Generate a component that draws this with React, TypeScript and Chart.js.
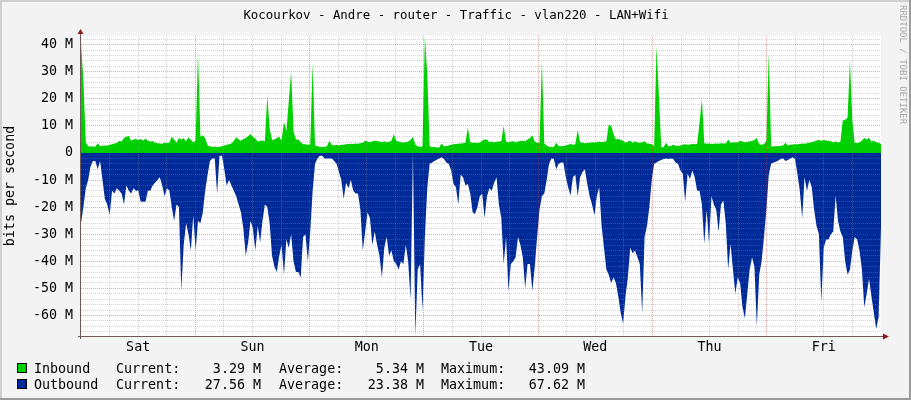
import React, { useEffect, useRef } from 'react';
import { Chart, registerables } from 'chart.js';

Chart.register(...registerables);

// ---- data (Mbit/s, one sample per 30 minutes, Sat 00:00 -> Fri 24:00) ----
const DAY_LABELS = ['Sat', 'Sun', 'Mon', 'Tue', 'Wed', 'Thu', 'Fri'];
const HOURS_SPAN = 168;

const INBOUND = [
  40.5, 27, 4, 2.5, 2.4, 2.4, 2.3, 3.6, 2.5, 2.7, 2.8, 2.8,
  2.9, 3.2, 3.5, 3.7, 4.5, 4.2, 5.5, 6, 6.3, 4.5, 5, 5.2,
  4.8, 5.2, 4.5, 5.3, 4.5, 4.2, 4.4, 3.8, 3.6, 3.5, 3.4, 3.8,
  3.6, 3.9, 6, 5, 3.8, 5.5, 5, 5.4, 4.3, 5.8, 4.8, 4,
  4.5, 37, 6, 6.5, 5.5, 2.8, 2.5, 2.2, 2.4, 2.2, 2.3, 2.5,
  2.8, 3, 3.2, 3.5, 4.5, 5.8, 5, 4.5, 5.2, 5.5, 6.2, 7,
  6, 5.3, 4.2, 4.4, 4.6, 4.3, 21, 9, 4.8, 5, 5.5, 6,
  4.5, 11.5, 8, 19, 30, 8, 5, 5, 4, 3.2, 3.2, 3,
  3, 33, 2.8, 2.5, 2.3, 2.2, 2.3, 2.5, 4.5, 3, 2.8, 3,
  2.8, 3, 3, 3.2, 3.3, 3.4, 3.3, 3.5, 3.4, 3.6, 3.8, 4.5,
  4.2, 4, 4.3, 4.5, 4.4, 4.2, 4, 4.3, 4, 4.1, 4.5, 7,
  4.5, 4.2, 4, 3.9, 4, 4.2, 4.8, 6, 3, 2.5, 2.3, 2.4,
  43, 29, 2.5, 2.2, 2.2, 2, 2, 3.5, 2.5, 2.6, 2.8, 3,
  3.2, 3.3, 3.4, 3.5, 3.6, 3.8, 9.5, 4, 3.8, 3.8, 3.7, 3.9,
  4.5, 5, 5, 4, 4.2, 4, 4.1, 4.2, 4.3, 10, 4.2, 4,
  4.2, 4.3, 4, 4.2, 4.4, 4.5, 4.3, 5, 5.5, 6.5, 4.2, 3.8,
  3.6, 34, 3.5, 2.8, 2.3, 2.2, 2.2, 3.8, 2.6, 2.5, 2.6, 2.8,
  3, 3.3, 3, 3.2, 8.5, 4, 3.8, 3.6, 3.7, 3.8, 4, 3.9,
  4, 4.2, 4, 4.1, 4.3, 10.5, 10, 7, 5, 5.2, 4.8, 4.5,
  3.8, 4.2, 4.5, 3.8, 4.3, 3.9, 3.8, 4, 4.3, 3.5, 3.4, 3.2,
  2.5, 39.5, 21, 2, 2.2, 3.8, 2.5, 2.6, 3, 2.7, 2.6, 2.8,
  3, 3.2, 3, 3.1, 3.3, 3.2, 3.4, 11, 20, 3.6, 3.4, 3.5,
  3.3, 3.4, 3.5, 3.4, 3.6, 3.5, 3.5, 5, 3.8, 4, 3.9, 4,
  4.5, 4.2, 4, 4.1, 4.2, 4.4, 4.8, 5.5, 3.2, 3, 3.2, 4.5,
  37, 2.5, 2.4, 2.6, 2.5, 2.7, 2.8, 3.8, 2.8, 3, 3.1, 3.2,
  3.2, 3.3, 3.5, 3.4, 3.6, 3.8, 4, 4.2, 4.6, 4.8, 4.5, 4.8,
  4.6, 4.4, 4.3, 4, 4.2, 3.9, 4.1, 12, 12.3, 13, 34, 12,
  3.8, 3.6, 4, 4.5, 5.5, 5, 5.6, 4.2, 4.5, 4, 3.8, 3.3,
];

// outbound magnitudes (drawn below zero, as in the RRD graph)
const OUTBOUND = [
  26, 20, 13, 10, 5, 3, 3, 6, 3, 10, 17, 19,
  23, 14, 15, 13, 14, 15, 19, 12, 14, 15, 13, 14,
  14, 18, 18, 18, 14, 14, 12, 11, 10, 9, 12, 16,
  13, 14, 20, 25, 19, 20, 51, 34, 26, 30, 36, 23,
  36, 25, 26, 22, 14, 8, 3, 2, 2, 15, 1, 1,
  6, 12, 10, 12, 14, 16, 19, 22, 28, 38, 33, 25,
  28, 36, 27, 33, 25, 19, 20, 26, 38, 42, 44, 38,
  34, 45, 32, 35, 30, 40, 44, 44, 46, 31, 30, 40,
  29, 14, 4, 2, 1, 1, 2, 2, 2, 2, 3, 4,
  7, 10, 17, 11, 13, 10, 14, 15, 15, 21, 36, 29,
  22, 24, 34, 29, 34, 38, 46, 35, 31, 38, 36, 40,
  41, 43, 40, 41, 34, 40, 54, 0.3, 67.6, 43, 41, 58,
  31, 13, 4, 3.5, 3, 2.5, 2, 1.6, 2.2, 3.5, 4, 6.5,
  11.5, 12.7, 19, 8, 9, 12, 11.5, 15, 22, 22.5, 20, 16,
  15, 24, 16, 13, 14, 11, 9, 19, 24, 41, 31, 51,
  41, 40, 38.5, 31, 34, 38.5, 50, 41, 41, 51, 42, 31,
  21, 16, 15, 10, 4, 2, 2.2, 6, 4, 3.5, 3.5, 9,
  12.7, 15.7, 9, 8, 16, 9, 7, 6, 11.5, 16, 19, 23,
  16, 12.7, 27, 35, 43, 45, 48, 46, 48, 53, 59, 63,
  53, 46, 35, 37, 36, 38.5, 41, 59, 31, 27, 20, 10,
  4, 3.5, 3, 2.6, 2.2, 2, 2.2, 2, 2.2, 3.5, 4, 6.5,
  7.7, 18, 7.7, 9.6, 6.5, 9, 14, 14, 19, 33.5, 21, 33.5,
  16, 19, 21, 29, 19, 17.6, 26, 43, 33.5, 43, 52, 46,
  48, 57, 61, 52, 43, 38.5, 42, 64, 45, 40, 31, 21,
  8, 4, 3.5, 3.2, 2.8, 2.2, 2, 3, 2.6, 2, 1.6, 2.2,
  7.7, 14, 24, 9, 14, 10, 12.7, 21, 27, 30, 55, 35,
  32, 32, 30, 29, 15.7, 25, 29, 31, 40, 45, 43, 36,
  31, 32, 36, 43, 57, 52, 46.5, 53, 59, 65, 60.6, 27.6,
];

const TITLE = 'Kocourkov - Andre - router - Traffic - vlan220 - LAN+Wifi';
const Y_TITLE = 'bits per second';
const WATERMARK = 'RRDTOOL / TOBI OETIKER';
const SERIES_NAMES = ['Inbound', 'Outbound'];
const SERIES_COLORS = ['#00CF00', '#002A97'];
const LEGEND_CURRENT = ['3.29 M', '27.56 M'];
const LEGEND_AVERAGE = ['5.34 M', '23.38 M'];
const LEGEND_MAXIMUM = ['43.09 M', '67.62 M'];
const Y_MIN = -67.6;
const Y_MAX = 43.2;

// ---- styling ----
const MONO = '"DejaVu Sans Mono", monospace';
const FONT_PX = 13.33;
const TITLE_PX = 12.4;
const MAJOR_GRID = 'rgba(205, 40, 40, 0.42)';
const MINOR_GRID = 'rgba(140, 140, 140, 0.38)';
const AXIS_COLOR = '#6E5858';
const ARROW_COLOR = '#8B1A1A';

const isMultiple = (v: number, m: number) => Math.abs(v / m - Math.round(v / m)) < 1e-6;

const rrdFrame = {
  id: 'rrdFrame',
  beforeDraw(chart: any) {
    const { ctx, width, height, chartArea: a } = chart;
    ctx.save();
    ctx.fillStyle = '#F3F3F3';
    ctx.fillRect(0, 0, width, height);
    ctx.fillStyle = '#CFCFCF';
    ctx.fillRect(0, 0, width, 2);
    ctx.fillRect(0, 0, 2, height);
    ctx.fillStyle = '#9B9B9B';
    ctx.fillRect(0, height - 2, width, 2);
    ctx.fillRect(width - 2, 0, 2, height);
    ctx.fillStyle = '#FFFFFF';
    ctx.fillRect(a.left, a.top, a.right - a.left, a.bottom - a.top);
    ctx.restore();
  },
  afterDraw(chart: any) {
    const { ctx, chartArea: a } = chart;
    ctx.save();
    // axes
    ctx.strokeStyle = AXIS_COLOR;
    ctx.lineWidth = 1;
    ctx.beginPath();
    ctx.moveTo(a.left - 0.5, a.bottom + 3);
    ctx.lineTo(a.left - 0.5, a.top - 2);
    ctx.moveTo(a.left - 3, a.bottom + 0.5);
    ctx.lineTo(a.right + 2, a.bottom + 0.5);
    ctx.stroke();
    ctx.fillStyle = ARROW_COLOR;
    ctx.beginPath();
    ctx.moveTo(a.left - 3.5, a.top - 2);
    ctx.lineTo(a.left + 2.5, a.top - 2);
    ctx.lineTo(a.left - 0.5, a.top - 7);
    ctx.closePath();
    ctx.fill();
    ctx.beginPath();
    ctx.moveTo(a.right + 2, a.bottom - 2.5);
    ctx.lineTo(a.right + 2, a.bottom + 3.5);
    ctx.lineTo(a.right + 8, a.bottom + 0.5);
    ctx.closePath();
    ctx.fill();

    // title
    ctx.fillStyle = '#000';
    ctx.font = `${TITLE_PX}px ${MONO}`;
    ctx.textAlign = 'center';
    ctx.textBaseline = 'alphabetic';
    ctx.fillText(TITLE, 456, 19);

    // y axis title
    ctx.font = `${FONT_PX}px ${MONO}`;
    ctx.save();
    ctx.translate(11, (a.top + a.bottom) / 2);
    ctx.rotate(-Math.PI / 2);
    ctx.textAlign = 'center';
    ctx.textBaseline = 'middle';
    ctx.fillText(Y_TITLE, 0, 0);
    ctx.restore();

    // legend
    for (let r = 0; r < SERIES_NAMES.length; r++) {
      const base = 373 + r * 16;
      ctx.fillStyle = SERIES_COLORS[r];
      ctx.fillRect(17, 363 + r * 16, 10, 10);
      ctx.strokeStyle = '#000';
      ctx.strokeRect(17.5, 363.5 + r * 16, 9, 9);
      ctx.fillStyle = '#000';
      ctx.textBaseline = 'alphabetic';
      ctx.textAlign = 'left';
      ctx.fillText(SERIES_NAMES[r], 34, base);
      ctx.fillText('Current:', 116, base);
      ctx.fillText('Average:', 279, base);
      ctx.fillText('Maximum:', 441, base);
      ctx.textAlign = 'right';
      ctx.fillText(LEGEND_CURRENT[r], 261, base);
      ctx.fillText(LEGEND_AVERAGE[r], 424, base);
      ctx.fillText(LEGEND_MAXIMUM[r], 585, base);
    }

    // watermark
    ctx.save();
    ctx.translate(902.5, 5);
    ctx.rotate(Math.PI / 2);
    ctx.font = `9px ${MONO}`;
    ctx.fillStyle = '#A8A8A8';
    ctx.textAlign = 'left';
    ctx.textBaseline = 'middle';
    ctx.fillText(WATERMARK, 0, 0);
    ctx.restore();
    ctx.restore();
  },
};

export default function App() {
  const canvasRef = useRef<HTMLCanvasElement | null>(null);

  useEffect(() => {
    const canvas = canvasRef.current;
    if (!canvas) return;
    const n = INBOUND.length;
    const xAt = (i: number) => (i * HOURS_SPAN) / (n - 1);
    const tickFont = { family: MONO, size: FONT_PX };

    const chart = new Chart(canvas, {
      type: 'line',
      data: {
        datasets: [
          {
            label: SERIES_NAMES[0],
            data: INBOUND.map((v, i) => ({ x: xAt(i), y: v })),
            backgroundColor: SERIES_COLORS[0],
            borderColor: SERIES_COLORS[0],
            borderWidth: 0,
            pointRadius: 0,
            fill: 'origin',
            tension: 0,
          },
          {
            label: SERIES_NAMES[1],
            data: OUTBOUND.map((v, i) => ({ x: xAt(i), y: -v })),
            backgroundColor: SERIES_COLORS[1],
            borderColor: SERIES_COLORS[1],
            borderWidth: 0,
            pointRadius: 0,
            fill: 'origin',
            tension: 0,
          },
        ],
      },
      options: {
        responsive: false,
        animation: false,
        devicePixelRatio: 1,
        events: [],
        layout: { padding: { left: 0, right: 30, top: 36, bottom: 0 } },
        plugins: {
          legend: { display: false },
          title: { display: false },
          tooltip: { enabled: false },
        },
        scales: {
          x: {
            type: 'linear',
            min: 0,
            max: HOURS_SPAN,
            afterFit: (s: any) => {
              s.height = 64;
            },
            ticks: {
              stepSize: 6,
              autoSkip: false,
              maxRotation: 0,
              minRotation: 0,
              includeBounds: false,
              padding: 4,
              font: tickFont,
              color: '#000',
              callback: (v: any) => {
                const val = Number(v);
                if (isMultiple(val - 12, 24)) return DAY_LABELS[Math.round((val - 12) / 24)] ?? '';
                return '';
              },
            },
            grid: {
              z: 1,
              drawTicks: false,
              lineWidth: 1,
              color: (c: any) => {
                const v = c.tick ? c.tick.value : 0;
                if (v <= 0 || v >= HOURS_SPAN) return 'rgba(0,0,0,0)';
                return isMultiple(v, 24) ? MAJOR_GRID : MINOR_GRID;
              },
            },
            border: { display: false, dash: [1, 1] },
          },
          y: {
            type: 'linear',
            min: Y_MIN,
            max: Y_MAX,
            afterFit: (s: any) => {
              s.width = 81;
            },
            ticks: {
              stepSize: 2,
              autoSkip: false,
              includeBounds: false,
              padding: 8,
              font: tickFont,
              color: '#000',
              callback: (v: any) => {
                const val = Number(v);
                if (!isMultiple(val, 10)) return '';
                const r = Math.round(val);
                return r === 0 ? '0' : `${r} M`;
              },
            },
            grid: {
              z: 1,
              drawTicks: false,
              lineWidth: 1,
              color: (c: any) => {
                const v = c.tick ? c.tick.value : 0;
                return isMultiple(v, 10) ? MAJOR_GRID : MINOR_GRID;
              },
            },
            border: { display: false, dash: [1, 1] },
          },
        },
      },
      plugins: [rrdFrame],
    } as any);

    return () => {
      chart.destroy();
    };
  }, []);

  return (
    <div style={{ position: 'absolute', left: 0, top: 0, width: 911, height: 400 }}>
      <canvas ref={canvasRef} width={911} height={400} style={{ display: 'block', width: 911, height: 400 }} />
    </div>
  );
}
